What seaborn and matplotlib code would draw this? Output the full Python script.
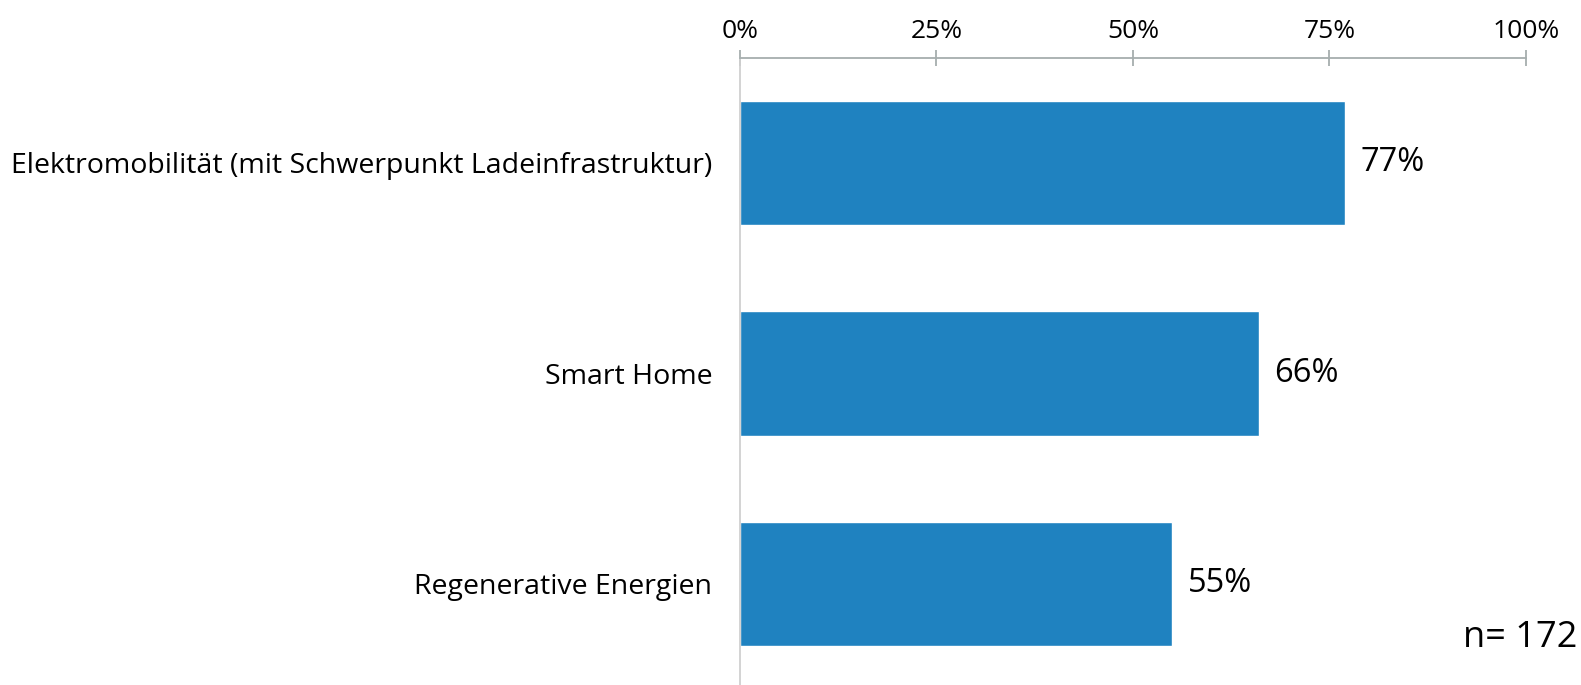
import matplotlib
matplotlib.use("Agg")
import matplotlib.pyplot as plt
import seaborn as sns
import pandas as pd
from matplotlib.ticker import PercentFormatter

# data
categories = ["Elektromobilität (mit Schwerpunkt Ladeinfrastruktur)",
              "Smart Home",
              "Regenerative Energien"]
values = [77, 66, 55]
x_ticks = [0, 25, 50, 75, 100]
sample_note = "n= 172"

sns.set_style("white")
plt.rcParams['font.family'] = ['Open Sans', 'DejaVu Sans']
plt.rcParams['text.color'] = 'black'

df = pd.DataFrame({'category': categories, 'value': values})

fig = plt.figure(figsize=(15.81, 6.85), dpi=100)
ax = fig.add_axes([0.468, 0.0, 0.4972, 0.9146])

sns.barplot(data=df, x='value', y='category', orient='h', color='#1f82c0',
            saturation=1, width=0.59, ax=ax)

ax.set_xlim(0, 100)
ax.set_ylim(2.48, -0.496)
ax.set_xticks(x_ticks)
ax.xaxis.set_major_formatter(PercentFormatter(decimals=0))
ax.xaxis.tick_top()
ax.tick_params(axis='x', direction='inout', length=11.5, width=1.3,
               color='#a6aeae', labelsize=19, pad=5, labelcolor='black')
ax.tick_params(axis='y', length=0, labelsize=20.5, pad=20, labelcolor='black')
ax.set_xlabel('')
ax.set_ylabel('')

for side in ['right', 'bottom']:
    ax.spines[side].set_visible(False)
ax.spines['top'].set_color('#a6aeae')
ax.spines['top'].set_linewidth(1.3)
ax.spines['left'].set_color('#d0d0d0')
ax.spines['left'].set_linewidth(1.3)

# value labels
for i, v in enumerate(values):
    ax.text(v + 2.0, i, f"{v}%", va='center', ha='left', fontsize=23.5)

fig.text(0.998, 0.068, sample_note, ha='right', va='center', fontsize=26)

fig.savefig('out.png', dpi=100)
